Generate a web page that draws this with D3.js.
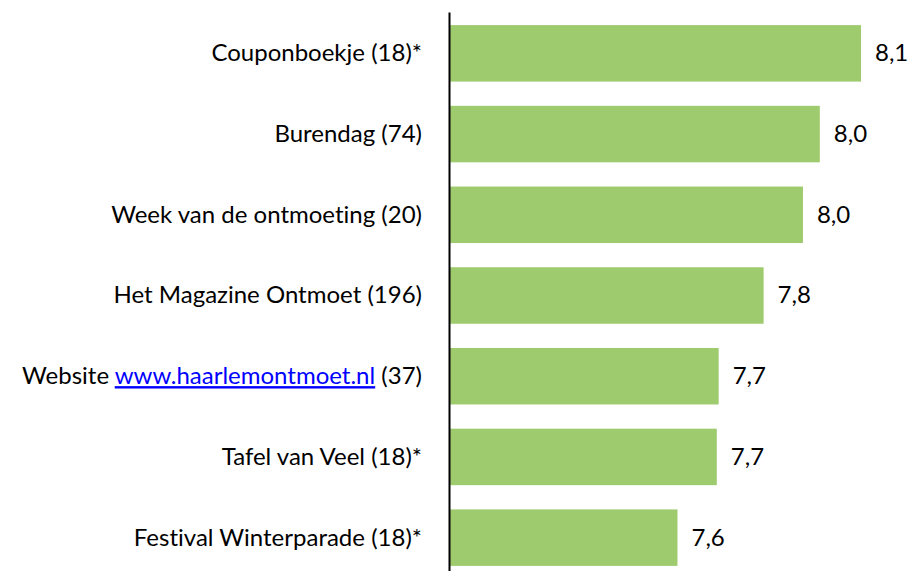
<!DOCTYPE html>
<html lang="nl">
<head>
  <meta charset="UTF-8">
  <title>waardering</title>
  <script src="https://d3js.org/d3.v7.min.js"></script>
  <style>
    body { margin: 0; background: #fff; }
    text { font-family: Lato, "Open Sans", sans-serif; fill: #000; font-variant-ligatures: none; }
  </style>
</head>
<body>
  <svg id="chart" width="909" height="571"></svg>
  <script>
    // data
    const categories = [
      "Couponboekje (18)*",
      "Burendag (74)",
      "Week van de ontmoeting (20)",
      "Het Magazine Ontmoet (196)",
      "Website www.haarlemontmoet.nl (37)",
      "Tafel van Veel (18)*",
      "Festival Winterparade (18)*"
    ];
    const values = [8.10, 7.99, 7.945, 7.84, 7.72, 7.715, 7.61];
    const valueLabels = ["8,1", "8,0", "8,0", "7,8", "7,7", "7,7", "7,6"];

    const svg = d3.select("#chart");
    const fontSize = 24;

    const x = d3.scaleLinear().domain([7, 8.1]).range([449, 861]);
    const y = d3.scaleBand().domain(categories).range([13, 578])
      .paddingInner(0.3).paddingOuter(0.15);

    const rows = categories.map((c, i) => ({ cat: c, value: values[i], label: valueLabels[i] }));

    // bars
    svg.selectAll("rect.bar").data(rows)
      .join("rect")
      .attr("class", "bar")
      .attr("x", x(7))
      .attr("y", d => y(d.cat))
      .attr("width", d => x(d.value) - x(7))
      .attr("height", y.bandwidth())
      .attr("fill", "#9ecb6e");

    // value labels
    svg.selectAll("text.val").data(rows)
      .join("text")
      .attr("class", "val")
      .attr("x", d => x(d.value) + 14)
      .attr("y", d => y(d.cat) + y.bandwidth() / 2)
      .attr("dy", "0.33em")
      .style("font-size", fontSize + "px")
      .text(d => d.label);

    // category labels
    const lab = svg.selectAll("text.cat").data(rows)
      .join("text")
      .attr("class", "cat")
      .attr("x", 422)
      .attr("y", d => y(d.cat) + y.bandwidth() / 2)
      .attr("dy", "0.33em")
      .attr("text-anchor", "end")
      .style("font-size", fontSize + "px");

    lab.each(function (d) {
      const t = d3.select(this);
      const m = d.cat.match(/^(.*?)(www\.\S+)(.*)$/);
      if (m) {
        t.append("tspan").text(m[1]);
        t.append("tspan").text(m[2])
          .style("fill", "#0000ff")
          .style("text-decoration", "underline");
        t.append("tspan").text(m[3]);
      } else {
        t.text(d.cat);
      }
    });

    // axis line
    svg.append("g")
      .attr("transform", "translate(449,0)")
      .call(d3.axisLeft(d3.scaleLinear().range([12, 571])).ticks(0).tickSize(0))
      .call(g => g.select(".domain").attr("stroke", "#000").attr("stroke-width", 2));
  </script>
</body>
</html>
